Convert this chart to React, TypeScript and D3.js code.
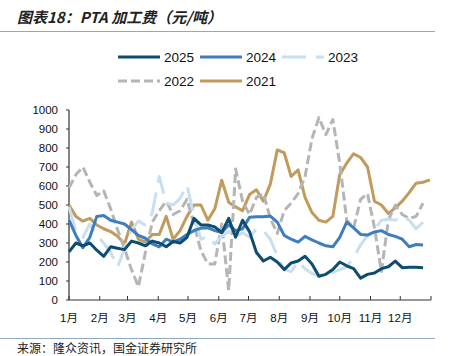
import React from "react";
import * as d3 from "d3";

const years = ["2025", "2024", "2023", "2022", "2021"];
const colors = ["#0c4d70", "#3d7dc0", "#c8def1", "#b5b5b5", "#c19b5b"];
const dashes = ["", "", "24,10", "9,4", ""];
const monthLabels = ["1月", "2月", "3月", "4月", "5月", "6月", "7月", "8月", "9月", "10月", "11月", "12月"];
const yTicks = [0, 100, 200, 300, 400, 500, 600, 700, 800, 900, 1000];

// weekly values (week 1 = Jan 1, one point every 7 days)
const v2025 = [253, 300, 285, 300, 262, 230, 280, 272, 265, 310, 300, 285, 310, 300, 280, 308, 300, 330, 430, 395, 395, 385, 355, 430, 330, 420, 360, 250, 205, 225, 200, 160, 195, 205, 230, 190, 125, 135, 160, 200, 180, 165, 115, 135, 142, 165, 175, 205, 170, 172, 172, 170];
const v2024 = [420, 340, 275, 330, 440, 445, 420, 410, 400, 370, 340, 325, 295, 280, 320, 305, 320, 345, 365, 378, 380, 365, 355, 395, 365, 375, 435, 438, 438, 442, 410, 340, 320, 305, 335, 316, 300, 285, 280, 330, 410, 380, 345, 342, 358, 365, 345, 335, 320, 280, 292, 290];
const v2023 = [490, 360, 330, 400, 340, 300, 250, 175, 270, 370, 415, 395, 460, 650, 510, 500, 535, 605, 440, 320, 335, 295, 335, 360, 330, 355, 330, 375, 365, 320, 230, 160, 150, 205, 165, 140, 125, 150, 145, 160, 175, 225, 290, 340, 370, 420, 425, 420, 440, 420, 375, 410];
const v2022 = [590, 660, 700, 620, 550, 575, 480, 370, 270, 160, 70, 250, 410, 470, 520, 450, 470, 530, 400, 260, 190, 190, 400, 50, 690, 520, 450, 540, 560, 430, 350, 470, 510, 560, 650, 850, 960, 870, 950, 720, 420, 380, 530, 560, 380, 150, 420, 500, 450, 430, 440, 510];
const v2021 = [500, 440, 415, 430, 395, 375, 360, 335, 295, 410, 320, 305, 345, 345, 440, 320, 365, 440, 500, 500, 420, 480, 630, 515, 490, 470, 555, 580, 520, 610, 790, 775, 650, 685, 540, 460, 420, 410, 440, 660, 720, 770, 750, 700, 520, 500, 455, 485, 520, 565, 615, 620, 632];
const seriesValues = [v2025, v2024, v2023, v2022, v2021];

const W = 451, H = 356;
const plot = { left: 69, right: 431, top: 110, bottom: 300 };
const yearStart = new Date(2025, 0, 1);
const yearEnd = new Date(2026, 0, 1);

export default function App() {
  const x = d3.scaleTime().domain([yearStart, yearEnd]).range([plot.left, plot.right]);
  const y = d3.scaleLinear().domain([0, 1000]).range([plot.bottom, plot.top]);
  const dateOf = (i: number) => d3.timeDay.offset(yearStart, i * 7);
  const line = d3
    .line<number>()
    .x((_, i) => x(dateOf(i)))
    .y((d) => y(d));
  const monthTicks = d3.timeMonth.range(yearStart, d3.timeDay.offset(yearEnd, 1));
  const font = "Liberation Sans, Arial, 'Noto Sans CJK SC', sans-serif";
  const cjk = "'Noto Sans CJK SC', sans-serif";
  const frameColor = "#8eaac2";

  const legendRows = [
    [0, 1, 2],
    [3, 4],
  ];
  const legendX = [118, 200, 282];
  const legendY = [57, 81];

  const drawOrder = [4, 3, 2, 1, 0];

  return (
    <svg width={W} height={H} style={{ position: "absolute", left: 0, top: 0, background: "#fff" }}>
      <text x={17} y={23} fontFamily={cjk} fontSize={15} fontStyle="italic" fontWeight="bold" fill="#222">
        图表18：PTA 加工费（元/吨）
      </text>
      <line x1={0} x2={435} y1={31.5} y2={31.5} stroke={frameColor} strokeWidth={1} />

      {legendRows.map((row, r) =>
        row.map((si, c) => (
          <g key={si}>
            <line
              x1={legendX[c]}
              x2={legendX[c] + 42}
              y1={legendY[r]}
              y2={legendY[r]}
              stroke={colors[si]}
              strokeWidth={3}
              strokeDasharray={dashes[si] || undefined}
            />
            <text x={legendX[c] + 46} y={legendY[r] + 5} fontFamily={font} fontSize={13.5} fill="#111">
              {years[si]}
            </text>
          </g>
        ))
      )}

      {/* axes */}
      <line x1={plot.left} x2={plot.left} y1={plot.top} y2={plot.bottom} stroke="#333" strokeWidth={1.2} />
      {yTicks.map((t) => (
        <g key={t}>
          <line x1={plot.left - 3} x2={plot.left} y1={y(t)} y2={y(t)} stroke="#333" strokeWidth={1} />
          <text x={58} y={y(t) + 4} textAnchor="end" fontFamily={font} fontSize={11.5} fill="#111">
            {t}
          </text>
        </g>
      ))}
      <line x1={plot.left} x2={plot.right} y1={plot.bottom} y2={plot.bottom} stroke="#333" strokeWidth={1.2} />
      {monthTicks.map((m, i) => (
        <g key={i}>
          <line x1={x(m)} x2={x(m)} y1={plot.bottom - 4} y2={plot.bottom} stroke="#333" strokeWidth={1} />
          {i < 12 && (
            <text x={x(m)} y={322} textAnchor="middle" fontFamily={font} fontSize={11.5} fill="#111">
              {monthLabels[i]}
            </text>
          )}
        </g>
      ))}

      {drawOrder.map((si) => (
        <path
          key={si}
          d={line(seriesValues[si]) || ""}
          fill="none"
          stroke={colors[si]}
          strokeWidth={3}
          strokeLinejoin="round"
          strokeDasharray={dashes[si] || undefined}
        />
      ))}

      <line x1={0} x2={435} y1={338.5} y2={338.5} stroke={frameColor} strokeWidth={1} />
      <text x={17} y={353} fontFamily={cjk} fontSize={12} fill="#222">
        来源：隆众资讯，国金证券研究所
      </text>
    </svg>
  );
}
